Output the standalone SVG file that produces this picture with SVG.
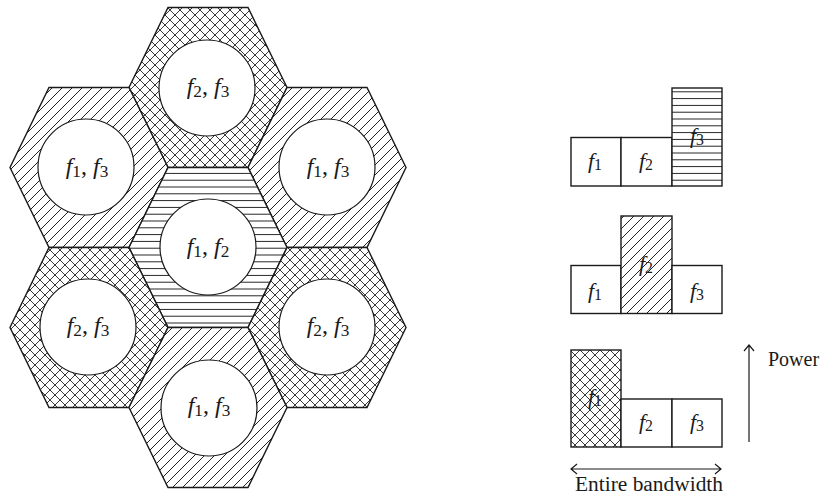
<svg xmlns="http://www.w3.org/2000/svg" width="822" height="502" viewBox="0 0 822 502">
<style>
.hex{stroke:#1a1a1a;stroke-width:1.4;stroke-linejoin:miter}
.cell{fill:#fff;stroke:#1a1a1a;stroke-width:1.2}
.bar{stroke:#1a1a1a;stroke-width:1.4}
.lbl{font-family:"Liberation Serif",serif;font-size:24px;fill:#1a1a1a;text-anchor:middle}
.blbl{font-family:"Liberation Serif",serif;font-size:22px;fill:#1a1a1a;text-anchor:middle}
.i{font-style:italic}
.s{font-size:0.72em}
.txt{font-family:"Liberation Serif",serif;font-size:20px;fill:#1a1a1a}
.arr{stroke:#1a1a1a;stroke-width:1.2;fill:none}
.pl{stroke:#222;stroke-width:1}
.pc{stroke:#222;stroke-width:0.9}
</style>
<defs>
<pattern id="diag" patternUnits="userSpaceOnUse" width="10" height="10">
<rect width="10" height="10" fill="#fff"/>
<path class="pl" d="M0,10 L10,0 M-2,2 L2,-2 M8,12 L12,8"/>
</pattern>
<pattern id="cross" patternUnits="userSpaceOnUse" width="10" height="10">
<rect width="10" height="10" fill="#fff"/>
<path class="pc" d="M0,0 L10,10 M10,0 L0,10"/>
</pattern>
<pattern id="horiz" patternUnits="userSpaceOnUse" width="10" height="6.8">
<rect width="10" height="6.8" fill="#fff"/>
<path class="pl" d="M-1,3.4 L11,3.4"/>
</pattern>
</defs>

<g id="hex-top">
<polygon class="hex" fill="url(#cross)" points="168,7.5 248,7.5 287,87.5 248,167.5 168,167.5 129,87.5"/>
<circle class="cell" cx="207" cy="88" r="48"/>
<text class="lbl" x="208" y="94"><tspan class="i">f</tspan><tspan class="s" dy="3">2</tspan><tspan dy="-3">, </tspan><tspan class="i">f</tspan><tspan class="s" dy="3">3</tspan></text>
</g>
<g id="hex-upper-left">
<polygon class="hex" fill="url(#diag)" points="49,87.5 129,87.5 168,167.5 129,247.5 49,247.5 10,167.5"/>
<circle class="cell" cx="86" cy="167" r="48"/>
<text class="lbl" x="87" y="174"><tspan class="i">f</tspan><tspan class="s" dy="3">1</tspan><tspan dy="-3">, </tspan><tspan class="i">f</tspan><tspan class="s" dy="3">3</tspan></text>
</g>
<g id="hex-upper-right">
<polygon class="hex" fill="url(#diag)" points="287,87.5 367,87.5 406,167.5 367,247.5 287,247.5 248,167.5"/>
<circle class="cell" cx="327" cy="167" r="48"/>
<text class="lbl" x="328" y="174"><tspan class="i">f</tspan><tspan class="s" dy="3">1</tspan><tspan dy="-3">, </tspan><tspan class="i">f</tspan><tspan class="s" dy="3">3</tspan></text>
</g>
<g id="hex-center">
<polygon class="hex" fill="url(#horiz)" points="168,167.5 248,167.5 287,247.5 248,327.5 168,327.5 129,247.5"/>
<circle class="cell" cx="208" cy="247" r="48"/>
<text class="lbl" x="208" y="254"><tspan class="i">f</tspan><tspan class="s" dy="3">1</tspan><tspan dy="-3">, </tspan><tspan class="i">f</tspan><tspan class="s" dy="3">2</tspan></text>
</g>
<g id="hex-lower-left">
<polygon class="hex" fill="url(#cross)" points="49,247.5 129,247.5 168,327.5 129,407.5 49,407.5 10,327.5"/>
<circle class="cell" cx="88" cy="327" r="48"/>
<text class="lbl" x="88" y="333"><tspan class="i">f</tspan><tspan class="s" dy="3">2</tspan><tspan dy="-3">, </tspan><tspan class="i">f</tspan><tspan class="s" dy="3">3</tspan></text>
</g>
<g id="hex-lower-right">
<polygon class="hex" fill="url(#cross)" points="287,247.5 367,247.5 406,327.5 367,407.5 287,407.5 248,327.5"/>
<circle class="cell" cx="327" cy="327" r="48"/>
<text class="lbl" x="328" y="333"><tspan class="i">f</tspan><tspan class="s" dy="3">2</tspan><tspan dy="-3">, </tspan><tspan class="i">f</tspan><tspan class="s" dy="3">3</tspan></text>
</g>
<g id="hex-bottom">
<polygon class="hex" fill="url(#diag)" points="168,327.5 248,327.5 287,407.5 248,487.5 168,487.5 129,407.5"/>
<circle class="cell" cx="209" cy="408" r="48"/>
<text class="lbl" x="209" y="413"><tspan class="i">f</tspan><tspan class="s" dy="3">1</tspan><tspan dy="-3">, </tspan><tspan class="i">f</tspan><tspan class="s" dy="3">3</tspan></text>
</g>

<g id="chart-1">
<rect class="bar" fill="#fff" x="571" y="137.5" width="50" height="48.5"/>
<rect class="bar" fill="#fff" x="621" y="137.5" width="51" height="48.5"/>
<rect class="bar" fill="url(#horiz)" x="672" y="88" width="50" height="98"/>
<text class="blbl" x="595" y="168"><tspan class="i">f</tspan><tspan class="s" dy="2">1</tspan></text>
<text class="blbl" x="646" y="168"><tspan class="i">f</tspan><tspan class="s" dy="2">2</tspan></text>
<text class="blbl" x="697" y="143"><tspan class="i">f</tspan><tspan class="s" dy="2">3</tspan></text>
</g>
<g id="chart-2">
<rect class="bar" fill="#fff" x="571" y="265.5" width="50" height="48"/>
<rect class="bar" fill="url(#diag)" x="621" y="216" width="51" height="97.5"/>
<rect class="bar" fill="#fff" x="672" y="265.5" width="50" height="48"/>
<text class="blbl" x="595" y="298"><tspan class="i">f</tspan><tspan class="s" dy="2">1</tspan></text>
<text class="blbl" x="646" y="271"><tspan class="i">f</tspan><tspan class="s" dy="2">2</tspan></text>
<text class="blbl" x="697" y="298"><tspan class="i">f</tspan><tspan class="s" dy="2">3</tspan></text>
</g>
<g id="chart-3">
<rect class="bar" fill="url(#cross)" x="571" y="350" width="50" height="97"/>
<rect class="bar" fill="#fff" x="621" y="399" width="51" height="48"/>
<rect class="bar" fill="#fff" x="672" y="399" width="50" height="48"/>
<text class="blbl" x="595" y="404"><tspan class="i">f</tspan><tspan class="s" dy="2">1</tspan></text>
<text class="blbl" x="646" y="429"><tspan class="i">f</tspan><tspan class="s" dy="2">2</tspan></text>
<text class="blbl" x="697" y="429"><tspan class="i">f</tspan><tspan class="s" dy="2">3</tspan></text>
</g>

<g id="connectors">
<path class="arr" d="M749,442 L749,345 M744,351 L749,345 L754,351"/>
<path class="arr" d="M571,469 L721,469 M577,464 L571,469 L577,474 M715,464 L721,469 L715,474"/>
</g>
<text class="txt" x="768" y="366" font-size="21">Power</text>
<text class="txt" x="575" y="491" textLength="148" lengthAdjust="spacingAndGlyphs">Entire bandwidth</text>
</svg>
